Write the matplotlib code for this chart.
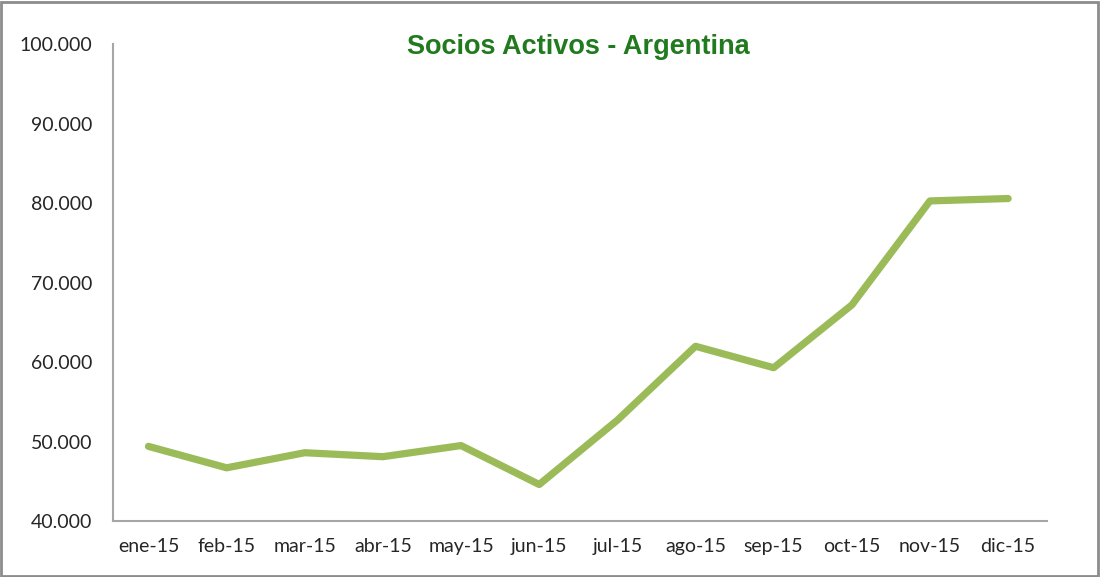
import matplotlib.pyplot as plt
from matplotlib.patches import Rectangle
from matplotlib.ticker import FuncFormatter

meses = ["ene-15", "feb-15", "mar-15", "abr-15", "may-15", "jun-15",
         "jul-15", "ago-15", "sep-15", "oct-15", "nov-15", "dic-15"]
socios = [49400, 46700, 48600, 48100, 49500, 44600,
          52700, 62000, 59300, 67200, 80300, 80600]
y_ticks = [40000, 50000, 60000, 70000, 80000, 90000, 100000]

plt.rcParams['font.family'] = ['Lato', 'DejaVu Sans']

fig = plt.figure(figsize=(11, 5.77), dpi=100)
ax = fig.add_axes([0.103, 0.097, 0.849, 0.826])

ax.plot(range(len(meses)), socios, color="#9BBB59", linewidth=5.2,
        solid_capstyle='round', solid_joinstyle='round')

ax.set_xlim(-0.45, 11.5)
ax.set_ylim(40000, 100000)
ax.set_yticks(y_ticks)
ax.yaxis.set_major_formatter(FuncFormatter(lambda v, p: f"{int(v):,}".replace(",", ".")))
ax.set_xticks(range(len(meses)))
ax.set_xticklabels(meses)

for s in ["top", "right"]:
    ax.spines[s].set_visible(False)
for s in ["left", "bottom"]:
    ax.spines[s].set_color("#A6A6A6")
    ax.spines[s].set_linewidth(1.5)
ax.tick_params(length=0, labelsize=14, colors="#262626")
ax.tick_params(axis='x', pad=12)
ax.tick_params(axis='y', pad=15)

fig.text(0.526, 0.918, "Socios Activos - Argentina", ha="center", va="center",
         fontsize=19.5, fontweight="bold", color="#217A1E", family="Liberation Sans")

fig.patches.append(Rectangle((0.001, 0.002), 0.997, 0.995, transform=fig.transFigure,
                             fill=False, edgecolor="#8C8C8C", linewidth=2))

plt.savefig("out.png")
